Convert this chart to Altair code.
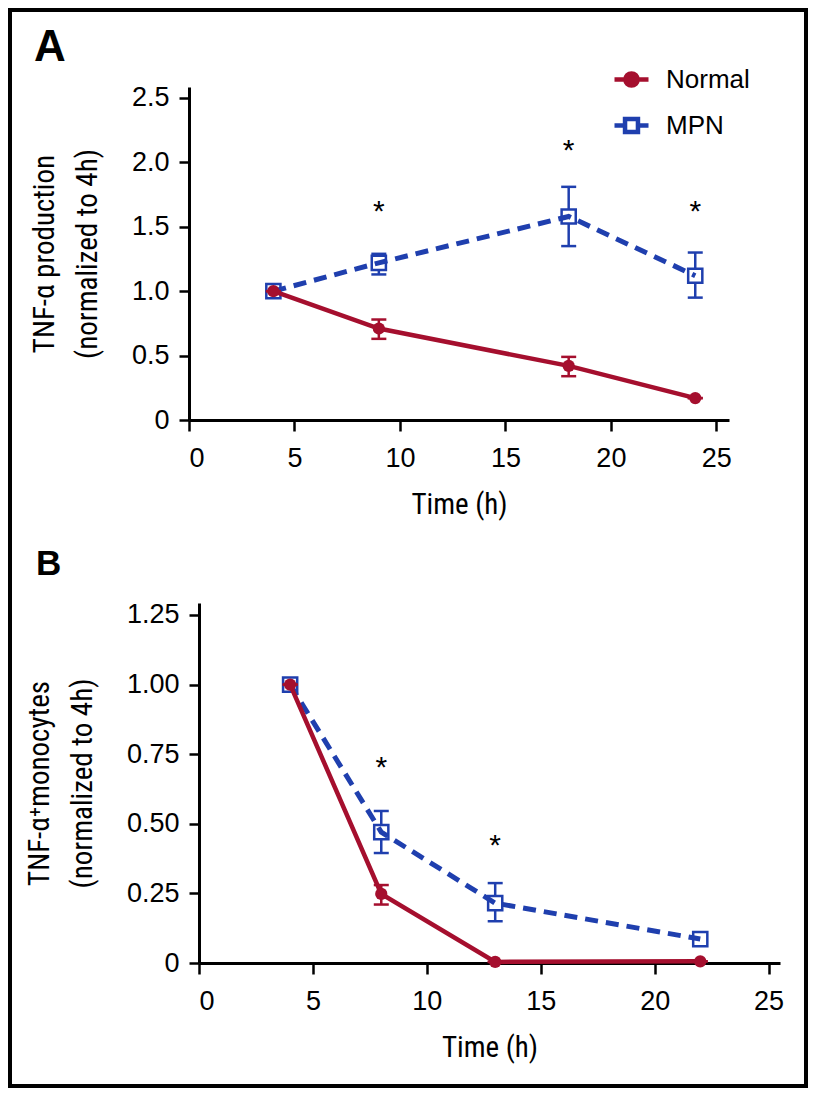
import altair as alt
import pandas as pd

RED = "#a50f2e"
BLUE = "#1f3fae"

# ---------------- data ----------------
groups = ["Normal", "MPN"]

# Panel A: TNF-alpha production (normalized to 4h)
a_time = [4, 9, 18, 24]
a_normal = [1.00, 0.71, 0.42, 0.17]
a_normal_lo = [1.00, 0.63, 0.34, 0.17]
a_normal_hi = [1.00, 0.78, 0.49, 0.17]
a_mpn = [1.00, 1.22, 1.58, 1.12]
a_mpn_lo = [1.00, 1.13, 1.35, 0.95]
a_mpn_hi = [1.00, 1.29, 1.81, 1.30]
a_star_t = [9, 18, 24]
a_star_y = [1.68, 2.15, 1.68]

# Panel B: TNF-alpha+ monocytes (normalized to 4h)
b_time = [4, 8, 13, 22]
b_normal = [1.00, 0.248, 0.004, 0.006]
b_normal_lo = [1.00, 0.21, 0.004, 0.006]
b_normal_hi = [1.00, 0.28, 0.004, 0.006]
b_mpn = [1.00, 0.47, 0.215, 0.086]
b_mpn_lo = [1.00, 0.395, 0.15, 0.086]
b_mpn_hi = [1.00, 0.546, 0.287, 0.086]
b_star_t = [8, 13]
b_star_y = [0.73, 0.45]

x_ticks = [0, 5, 10, 15, 20, 25]
a_y_ticks = [0, 0.5, 1.0, 1.5, 2.0, 2.5]
b_y_ticks = [0, 0.25, 0.5, 0.75, 1.0, 1.25]

# ---------------- layout constants (view = whole framed figure) ----------------
W, H = 800, 1080
A_X0, A_X1 = 181, 721      # pixel range of panel A x scale
A_Y0, A_Y1 = 412, 79       # pixel range of panel A y scale
B_X0, B_X1 = 191, 772
B_Y0, B_Y1 = 955, 595

LABEL_FONT = "Liberation Sans, Arial, Helvetica, sans-serif"
TITLE_FONT = "Roboto Condensed, Liberation Sans, sans-serif"

LEG_NORMAL = "M-1,0L1,0M-0.36,0A0.36,0.36,0,1,1,0.36,0A0.36,0.36,0,1,1,-0.36,0"
LEG_MPN = "M-1,0L-0.38,0M0.38,0L1,0M-0.38,-0.38L0.38,-0.38L0.38,0.38L-0.38,0.38Z"


def long_df(t, n, nlo, nhi, m, mlo, mhi):
    rows = []
    for i in range(len(t)):
        rows.append(dict(group="Normal", t=t[i], v=n[i], lo=nlo[i], hi=nhi[i]))
    for i in range(len(t)):
        rows.append(dict(group="MPN", t=t[i], v=m[i], lo=mlo[i], hi=mhi[i]))
    return pd.DataFrame(rows)


def panel(df, star_t, star_y, xdom, xrange, ydom, yrange, yticks, yfmt, ytitle,
          x_offset, y_offset, with_legend, letter, letter_x, letter_y, letter_size):
    xs = alt.Scale(domain=xdom, range=xrange, nice=False, zero=False)
    ys = alt.Scale(domain=ydom, range=yrange, nice=False, zero=False)
    xaxis = alt.Axis(values=x_ticks, title="Time (h)", orient="bottom", offset=x_offset,
                     grid=False, tickSize=11, labelPadding=14, titlePadding=19)
    yaxis = alt.Axis(values=yticks, title=ytitle, orient="left", offset=y_offset,
                     grid=False, tickSize=10, labelPadding=10, titlePadding=29,
                     labelExpr=f"datum.value == 0 ? '0' : format(datum.value, '{yfmt}')")
    X = alt.X("t:Q", scale=xs, axis=xaxis)
    Y = alt.Y("v:Q", scale=ys, axis=yaxis)
    YLO = alt.Y("lo:Q", scale=ys, axis=yaxis)
    YHI = alt.Y("hi:Q", scale=ys, axis=yaxis)

    norm = df[df.group == "Normal"]
    mpn = df[df.group == "MPN"]

    def bars(d, col):
        return [
            alt.Chart(d).mark_rule(color=col, strokeWidth=2.5, opacity=1).encode(x=X, y=YLO, y2="hi:Q"),
            alt.Chart(d).mark_tick(color=col, orient="horizontal", size=15, thickness=2.5, opacity=1)
            .encode(x=X, y=YLO),
            alt.Chart(d).mark_tick(color=col, orient="horizontal", size=15, thickness=2.5, opacity=1)
            .encode(x=X, y=YHI),
        ]

    layers = []
    layers += bars(mpn, BLUE)
    layers.append(alt.Chart(mpn).mark_point(shape="square", filled=True, fill="white", stroke=BLUE,
                                            strokeWidth=2.5, size=200, opacity=1).encode(x=X, y=Y))
    layers.append(alt.Chart(mpn).mark_line(color=BLUE, strokeWidth=5, strokeDash=[13, 8])
                  .encode(x=X, y=Y, order="t:Q"))
    layers.append(alt.Chart(norm).mark_line(color=RED, strokeWidth=4.5)
                  .encode(x=X, y=Y, order="t:Q"))
    layers += bars(norm, RED)
    layers.append(alt.Chart(norm).mark_point(shape="circle", filled=True, color=RED, size=150,
                                             opacity=1).encode(x=X, y=Y))

    layers.append(alt.Chart(pd.DataFrame({"t": star_t, "v": star_y})).mark_text(
        text="*", font=LABEL_FONT, fontSize=30, baseline="alphabetic", dy=17, color="black"
    ).encode(x=X, y=Y))

    layers.append(alt.Chart(pd.DataFrame({"lbl": [letter]})).mark_text(
        font=LABEL_FONT, fontSize=letter_size, fontWeight="bold", align="left", baseline="alphabetic",
        color="black").encode(text="lbl:N", x=alt.value(letter_x), y=alt.value(letter_y)))

    if with_legend:
        leg = alt.Legend(title=None, orient="none", legendX=604, legendY=52, padding=0,
                         symbolSize=1156, labelOffset=15, rowPadding=11,
                         labelFont=LABEL_FONT, labelFontSize=26, labelColor="black",
                         symbolStrokeWidth=4.5, symbolOpacity=1)
        layers.append(
            alt.Chart(df).transform_filter("false").mark_point(size=1156, strokeWidth=4.5, opacity=1)
            .encode(
                x=X, y=Y,
                color=alt.Color("group:N", scale=alt.Scale(domain=groups, range=[RED, BLUE]), legend=leg),
                fill=alt.Fill("group:N", scale=alt.Scale(domain=groups, range=[RED, "white"]), legend=leg),
                shape=alt.Shape("group:N", scale=alt.Scale(domain=groups, range=[LEG_NORMAL, LEG_MPN]),
                                legend=leg),
            )
        )

    return alt.layer(*layers)


dfA = long_df(a_time, a_normal, a_normal_lo, a_normal_hi, a_mpn, a_mpn_lo, a_mpn_hi)
dfB = long_df(b_time, b_normal, b_normal_lo, b_normal_hi, b_mpn, b_mpn_lo, b_mpn_hi)

panelA = panel(dfA, a_star_t, a_star_y, [0, 25.6], [A_X0, A_X1], [0, 2.585], [A_Y0, A_Y1],
               a_y_ticks, ".1f", ["TNF-α production", "(normalized to 4h)"],
               -(H - A_Y0), -A_X0, True, "A", 26, 53, 44)
panelB = panel(dfB, b_star_t, b_star_y, [0, 25.5], [B_X0, B_X1], [0, 1.293], [B_Y0, B_Y1],
               b_y_ticks, ".2f", ["TNF-α⁺monocytes", "(normalized to 4h)"],
               -(H - B_Y0), -B_X0, False, "B", 28, 567, 35)

chart = alt.layer(panelA, panelB).resolve_scale(
    x="independent", y="independent"
).properties(width=W, height=H, padding=0, background="white").configure_view(
    stroke="black", strokeWidth=8
).configure_axis(
    domainColor="black", domainWidth=3, tickColor="black", tickWidth=2.5,
    labelColor="black", labelFont=LABEL_FONT, labelFontSize=27,
    titleColor="black", titleFont=TITLE_FONT, titleFontSize=29, titleFontWeight="normal",
    titleLineHeight=43,
)

chart.save("out.html", embed_options={"renderer": "svg", "actions": False})
